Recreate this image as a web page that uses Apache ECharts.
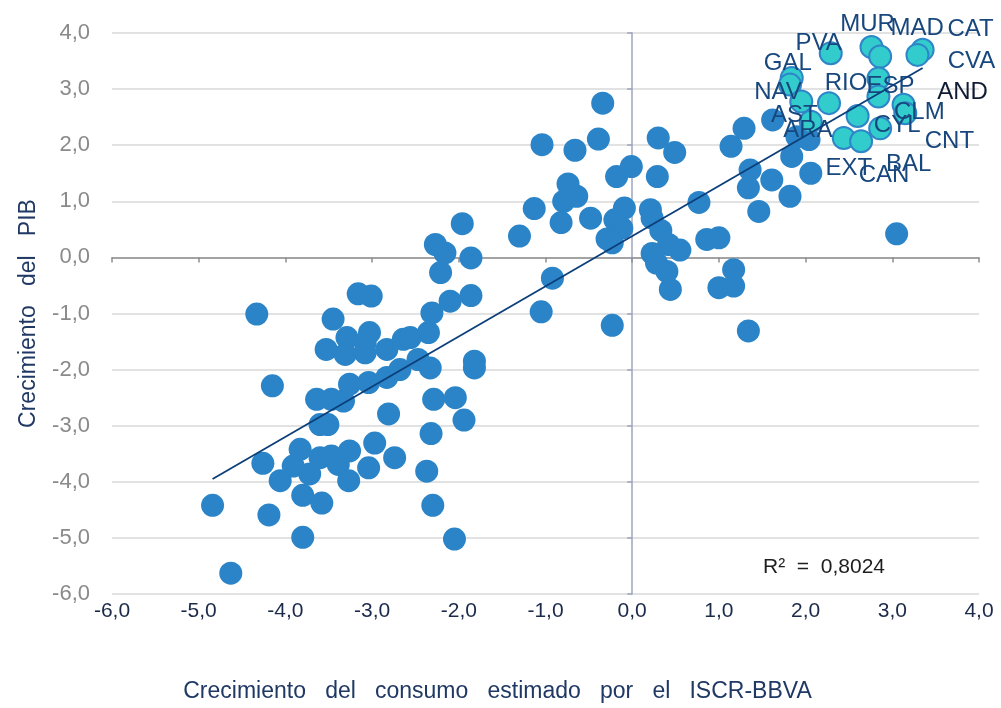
<!DOCTYPE html>
<html>
<head>
<meta charset="utf-8">
<script src="https://cdn.jsdelivr.net/npm/echarts@6/dist/echarts.min.js"></script>
<style>html,body{margin:0;padding:0;background:#fff}#c{width:1001px;height:708px}</style>
</head>
<body>
<div id="c"></div>
<script>
// Observations (provinces/years) – consumption growth (x) vs GDP growth (y)
const obsX = [-4.84,-4.63,-4.33,-4.15,-4.19,-4.26,-4.06,-3.91,-3.83,-3.80,-3.80,-3.72,-3.60,-3.58,-3.47,-3.39,-3.26,-3.27,-3.04,-2.97,-2.74,-2.37,-2.30,-2.05,-2.32,-3.60,-3.51,-2.81,-2.29,-2.04,-1.94,-3.64,-3.47,-3.33,-3.26,-3.04,-2.83,-2.68,-2.47,-2.33,-1.82,-1.82,-3.53,-3.29,-3.31,-3.03,-3.08,-3.08,-2.83,-2.64,-2.56,-2.35,-3.45,-3.16,-3.01,-2.31,-2.10,-1.86,-2.21,-1.86,-2.16,-2.27,-1.96,
  -1.30,-1.05,-0.92,-0.23,-1.13,-0.82,-0.48,-0.79,-0.64,-0.74,-1.04,-0.66,-0.39,-0.34,-0.18,-0.01,-0.09,-0.20,-0.12,-0.29,-0.23,0.30,0.49,0.29,0.21,0.23,0.33,0.42,0.55,0.23,0.28,0.40,0.44,0.77,0.86,1.00,1.17,1.00,1.17,1.34,1.14,1.29,1.62,1.36,1.34,1.61,1.46,1.82,1.84,1.90,2.04,2.06,3.05];
const obsY = [-4.42,-5.63,-1.01,-2.29,-4.59,-3.67,-3.98,-3.72,-3.42,-4.24,-4.99,-3.86,-3.57,-4.38,-3.54,-3.69,-3.45,-3.98,-3.75,-3.31,-3.57,-3.81,-4.42,-5.02,-3.14,-2.98,-2.98,-2.79,-2.53,-2.50,-2.90,-2.53,-2.53,-2.56,-2.26,-2.23,-2.14,-2.00,-1.82,-1.97,-1.85,-1.97,-1.64,-1.43,-1.73,-1.34,-1.52,-1.70,-1.64,-1.46,-1.43,-1.34,-1.10,-0.65,-0.69,-0.99,-0.78,-0.68,-0.27,-0.01,0.08,0.23,0.60,
  0.38,-0.97,-0.37,-1.21,0.87,0.62,0.70,1.00,1.09,1.31,2.01,1.91,2.11,2.75,1.44,1.62,0.88,0.67,0.52,0.33,0.26,2.13,1.87,1.44,0.85,0.70,0.48,0.23,0.13,0.07,-0.10,-0.25,-0.57,0.98,0.32,0.35,-0.22,-0.54,-0.51,-1.31,1.98,2.30,2.45,1.56,1.24,1.38,0.82,1.09,1.80,2.15,2.10,1.50,0.42];

// Latest year by region (highlighted)
const regionNames = ['PVA','MUR','MAD','CAT','CVA','GAL','NAV','AST','RIO','ESP','CNT','AND','CLM','BAL','CYL','ARA','EXT','CAN'];
const regionX = [2.29,2.76,2.86,3.35,3.29,1.84,1.82,1.95,2.27,2.84,2.84,3.13,3.15,2.60,2.86,2.06,2.44,2.64];
const regionY = [3.64,3.75,3.58,3.70,3.61,3.20,3.08,2.78,2.75,3.19,2.87,2.72,2.57,2.52,2.30,2.42,2.13,2.07];

const axisMin = -6, axisMax = 4, axisStep = 1;
const r2Text = 'R²  =  0,8024';
const xName = 'Crecimiento   del   consumo   estimado   por   el   ISCR-BBVA';
const yName = 'Crecimiento   del   PIB';

// label placement (pixel offsets from the point centre)
const labelOffsets = {PVA:[-12,-10],MUR:[-4,-23],MAD:[37,-28],CAT:[48,-20],CVA:[54,6],GAL:[-4,-15],NAV:[-12,8],AST:[-7,14],RIO:[17,-20],ESP:[12,8],CNT:[71,45],AND:[59,-12],CLM:[14,-1],BAL:[51,48],CYL:[17,-3],ARA:[-3,9],EXT:[5,30],CAN:[23,34]};

const allX = obsX.concat(regionX), allY = obsY.concat(regionY);
const n = allX.length;
const mx = allX.reduce((a,b)=>a+b,0)/n, my = allY.reduce((a,b)=>a+b,0)/n;
let sxy=0, sxx=0;
for (let i=0;i<n;i++){ sxy += (allX[i]-mx)*(allY[i]-my); sxx += (allX[i]-mx)*(allX[i]-mx); }
const slope = sxy/sxx, intercept = my - slope*mx;
const xLo = Math.min(...allX), xHi = Math.max(...allX);

const fmt = v => v.toFixed(1).replace('.', ',');
const font = 'Liberation Sans, Arial, sans-serif';

const chart = echarts.init(document.getElementById('c'));
chart.setOption({
  animation: false,
  grid: {left: 112, right: 22, top: 33, bottom: 113},
  xAxis: [
    {type:'value', min:axisMin, max:axisMax, interval:axisStep, position:'bottom',
     axisLine:{show:false, onZero:false}, axisTick:{show:false}, splitLine:{show:false},
     axisLabel:{formatter:fmt, color:'#1B2A4A', fontSize:21, fontFamily:font, margin:7},
     name:xName, nameLocation:'middle', nameGap:86,
     nameTextStyle:{color:'#1F3864', fontSize:23, fontFamily:font, padding:[0, 96, 0, 0]}},
    {type:'value', min:axisMin, max:axisMax, interval:axisStep, position:'bottom',
     axisLine:{show:true, onZero:true, lineStyle:{color:'#8E8E8E', width:1.5}},
     axisTick:{show:true, length:5, lineStyle:{color:'#8E8E8E', width:1.5}},
     axisLabel:{show:false}, splitLine:{show:false}}
  ],
  yAxis: [
    {type:'value', min:axisMin, max:axisMax, interval:axisStep, position:'left',
     axisLine:{show:false, onZero:false}, axisTick:{show:false},
     splitLine:{show:true, lineStyle:{color:'#D9D9D9', width:1.5}},
     axisLabel:{formatter:fmt, color:'#8A8A8A', fontSize:22, fontFamily:font, margin:22},
     name:yName, nameLocation:'middle', nameGap:72,
     nameTextStyle:{color:'#1F3864', fontSize:23, fontFamily:font}},
    {type:'value', min:axisMin, max:axisMax, interval:axisStep, position:'left',
     axisLine:{show:true, onZero:true, lineStyle:{color:'#9EA4BE', width:1.5}},
     axisTick:{show:true, length:5, lineStyle:{color:'#9EA4BE', width:1.5}},
     axisLabel:{show:false}, splitLine:{show:false}}
  ],
  series: [
    {type:'scatter', xAxisIndex:0, yAxisIndex:0, symbolSize:23, z:2,
     itemStyle:{color:'#2A84C7', opacity:1},
     data: obsX.map((x,i)=>[x, obsY[i]])},
    {type:'scatter', xAxisIndex:0, yAxisIndex:0, symbolSize:22, z:3,
     itemStyle:{color:'#33CCCC', borderColor:'#2E86C8', borderWidth:2, opacity:1},
     data: regionNames.map((nm,i)=>({name:nm, value:[regionX[i], regionY[i]],
        label:{offset:labelOffsets[nm], color: nm==='AND' ? '#0F1A33' : '#17477D'}})),
     label:{show:true, position:'inside', formatter:p=>p.name, fontSize:24, fontFamily:font}},
    {type:'line', xAxisIndex:0, yAxisIndex:0, z:4, showSymbol:false, symbol:'none', silent:true,
     lineStyle:{color:'#0C3F7A', width:1.8},
     data:[[xLo, intercept+slope*xLo],[xHi, intercept+slope*xHi]]}
  ],
  graphic: [
    {type:'text', left:763, top:557, style:{text:r2Text, fontSize:21, fontFamily:font, fill:'#1E1E1E'}}
  ]
});
</script>
</body>
</html>
